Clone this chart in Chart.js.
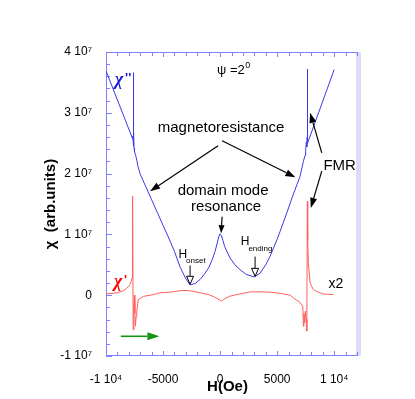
<!DOCTYPE html>
<html><head><meta charset="utf-8">
<script src="https://cdn.jsdelivr.net/npm/chart.js@4/dist/chart.umd.min.js"></script>
<style>html,body{margin:0;padding:0;background:#fff}</style>
</head><body>
<canvas id="c" width="415" height="399"></canvas>
<script>
// ---- data (field H in Oe, susceptibility in units of 1e7 arb. units) ----
const fieldChi2 = [-10000,-7660,-7640,-7620,-7610,-7600,-7590,-7575,-7560,-7540,
  -7500,-7400,-7300,-7200,-7000,-6500,-6000,-5500,-5000,-4500,
  -4000,-3500,-3000,-2630,-2200,-1750,-1400,-1000,-700,-440,
  -250,-120,0,120,250,400,880,1300,1750,2300,3000,
  3500,4000,4380,5000,5260,5840,6400,7000,7300,7450,
  7500,7560,7600,7630,7650,7660,7680,10000];
const chi2 = [3.69,2.57,2.62,2.55,3.66,2.45,2.78,2.48,2.70,2.42,
  2.36,2.30,2.22,2.12,1.99,1.78,1.57,1.36,1.15,0.94,
  0.72,0.46,0.27,0.17,0.19,0.26,0.34,0.45,0.58,0.72,
  0.86,0.96,1.01,0.98,0.90,0.80,0.61,0.50,0.42,0.34,0.30,
  0.36,0.50,0.64,0.92,1.05,1.35,1.65,1.95,2.20,2.30,
  2.38,2.52,2.44,2.60,3.72,2.55,2.50,3.71];
const fieldChi1 = [-10000,-9000,-8500,-8200,-7950,-7800,-7720,-7680,-7660,-7620,
  -7560,-7510,-7470,-7420,-7360,-7300,-7160,-6720,-5850,-5260,
  -4380,-3220,-2500,-1750,-1000,-500,0,100,300,800,
  1460,2000,2630,3500,4380,5260,6140,6430,7010,7250,
  7300,7350,7420,7480,7540,7600,7650,7680,7740,7890,
  8180,8600,9050,9930];
const chi1x2 = [0.02,0.04,0.07,0.11,0.16,0.22,0.28,0.45,1.63,-0.57,
  -0.15,0.00,-0.30,-0.51,-0.35,-0.26,-0.07,-0.02,0.01,0.04,
  0.05,0.08,0.07,0.04,0.01,-0.03,-0.08,-0.10,-0.07,-0.02,
  0.01,0.03,0.055,0.055,0.05,0.03,0.00,-0.045,-0.12,-0.18,
  -0.51,-0.30,-0.45,-0.26,-0.40,-0.59,1.54,0.90,0.53,0.20,
  0.09,0.05,0.02,0.01];
const xTickValues = [-10000,-5000,0,5000,10000];
const yTickValues = [-1,0,1,2,3,4];

const FONT = "'Liberation Sans', Arial, sans-serif";
const AXIS = '#8080ff';

function xLabel(v){ if(v===0) return '0'; if(Math.abs(v)>=10000) return (v/10000)+' 10\u2074'; return String(v); }
function yLabel(v){ return v===0 ? '0' : v+' 10\u2077'; }

function arrow(ctx,x1,y1,x2,y2,color,lw,hl,hw,hollow){
  const a=Math.atan2(y2-y1,x2-x1), c=Math.cos(a), s=Math.sin(a);
  const bx=x2-hl*c, by=y2-hl*s;
  ctx.strokeStyle=color; ctx.lineWidth=lw;
  ctx.beginPath(); ctx.moveTo(x1,y1); ctx.lineTo(bx,by); ctx.stroke();
  ctx.beginPath(); ctx.moveTo(x2,y2);
  ctx.lineTo(bx+hw/2*s, by-hw/2*c); ctx.lineTo(bx-hw/2*s, by+hw/2*c); ctx.closePath();
  if(hollow){ ctx.fillStyle='#fff'; ctx.fill(); ctx.lineWidth=1; ctx.stroke(); }
  else { ctx.fillStyle=color; ctx.fill(); }
}

const framePlugin = {
  id:'frame',
  beforeDatasetsDraw(chart){
    const {ctx, chartArea:a, scales:{x,y}} = chart;
    ctx.save();
    ctx.fillStyle='#dcdcfa';
    ctx.fillRect(a.right-1, a.top, 5, a.bottom-a.top);
    ctx.strokeStyle=AXIS; ctx.lineWidth=1;
    ctx.beginPath();
    ctx.moveTo(a.left+0.5, a.bottom); ctx.lineTo(a.left+0.5, a.top+0.5); ctx.lineTo(a.right, a.top+0.5);
    ctx.moveTo(a.left, a.bottom-0.5); ctx.lineTo(a.right, a.bottom-0.5);
    ctx.stroke();
    ctx.beginPath();
    for(let v=x.min; v<=x.max; v+=1000){
      const px=Math.round(x.getPixelForValue(v))+0.5;
      const len = (v%5000===0)?5:4;
      ctx.moveTo(px,a.bottom); ctx.lineTo(px,a.bottom-len);
      ctx.moveTo(px,a.top); ctx.lineTo(px,a.top+len);
    }
    for(let i=0;i<=25;i++){
      const v=y.min+i*0.2;
      const py=Math.round(y.getPixelForValue(v))+0.5;
      const len=(i%5===0)?6:4;
      ctx.moveTo(a.left,py); ctx.lineTo(a.left+len,py);
    }
    ctx.stroke();
    ctx.restore();
  },
  afterDatasetsDraw(chart){
    const {ctx, chartArea:a, scales:{x,y}} = chart;
    const X=v=>x.getPixelForValue(v), Y=v=>y.getPixelForValue(v);
    ctx.save();
    ctx.fillStyle='#000'; ctx.textBaseline='alphabetic';
    // psi
    ctx.font='13px '+FONT; ctx.textAlign='left';
    ctx.fillText('\u03C8 =2', X(-263), Y(3.64));
    const w=ctx.measureText('\u03C8 =2').width;
    ctx.font='9px '+FONT; ctx.fillText('0', X(-263)+w+0.5, Y(3.64)-6);
    // magnetoresistance
    ctx.font='15px '+FONT; ctx.textAlign='center';
    ctx.fillText('magnetoresistance', X(88), Y(2.69));
    arrow(ctx, X(-175),Y(2.46), X(-6135),Y(1.71), '#000',1.2,10,7,false);
    arrow(ctx, X(175),Y(2.54), X(6600),Y(1.94), '#000',1.2,10,7,false);
    // domain mode resonance
    ctx.fillStyle='#000'; ctx.font='15px '+FONT; ctx.textAlign='center';
    ctx.fillText('domain mode', X(263), Y(1.655));
    ctx.fillText('resonance', X(526), Y(1.39));
    arrow(ctx, X(175),Y(1.29), X(90),Y(1.02), '#000',1.2,8,6,false);
    // H onset / ending
    ctx.fillStyle='#000'; ctx.textAlign='left';
    ctx.font='12px '+FONT; ctx.fillText('H', X(-3655), Y(0.61));
    ctx.font='8px '+FONT; ctx.fillText('onset', X(-2980), Y(0.53));
    arrow(ctx, X(-2630),Y(0.49), X(-2630),Y(0.18), '#000',1,8,7,true);
    ctx.fillStyle='#000';
    ctx.font='12px '+FONT; ctx.fillText('H', X(1814), Y(0.83));
    ctx.font='8px '+FONT; ctx.fillText('ending', X(2480), Y(0.72));
    arrow(ctx, X(3067),Y(0.635), X(3067),Y(0.31), '#000',1,8,7,true);
    // FMR
    ctx.fillStyle='#000'; ctx.font='15px '+FONT; ctx.textAlign='left';
    ctx.fillText('FMR', X(9053), Y(2.066));
    arrow(ctx, X(8913),Y(2.34), X(7888),Y(3.0), '#000',1.2,10,7,false);
    arrow(ctx, X(8913),Y(2.04), X(7949),Y(1.436), '#000',1.2,10,7,false);
    // series labels
    ctx.fillStyle='#1a1ad0'; ctx.font="italic bold 18px 'Liberation Serif', serif";
    ctx.fillText('\u03C7', X(-9202), Y(3.46));
    ctx.font="bold 13px "+FONT; ctx.fillText("''", X(-9202)+10, Y(3.46)-3);
    ctx.fillStyle='#ff0000'; ctx.font="italic bold 18px 'Liberation Serif', serif";
    ctx.fillText('\u03C7', X(-9290), Y(0.14));
    ctx.font="bold 13px "+FONT; ctx.fillText("'", X(-9290)+10, Y(0.14)-3);
    ctx.fillStyle='#000'; ctx.font='14px '+FONT;
    ctx.fillText('x2', X(9492), Y(0.12));
    // green arrow
    arrow(ctx, X(-8703),Y(-0.676), X(-5320),Y(-0.676), '#149414',1.6,12,8,false);
    // axis titles
    ctx.fillStyle='#000'; ctx.font='bold 15px '+FONT; ctx.textAlign='center';
    ctx.fillText('H(Oe)', 227.5, 391);
    ctx.translate(55, (a.top+a.bottom)/2); ctx.rotate(-Math.PI/2);
    ctx.fillText('\u03C7  (arb.units)', 0, 0);
    ctx.restore();
  }
};

new Chart(document.getElementById('c'), {
  type:'scatter',
  data:{ datasets:[
    { label:"chi''", data: fieldChi2.map((h,i)=>({x:h,y:chi2[i]})), showLine:true, borderColor:'#3a3ae4', borderWidth:1, pointRadius:0, tension:0 },
    { label:"chi' x2", data: fieldChi1.map((h,i)=>({x:h,y:chi1x2[i]})), showLine:true, borderColor:'#ff5c5c', borderWidth:1, pointRadius:0, tension:0 }
  ]},
  options:{
    responsive:false, animation:false, devicePixelRatio:1,
    layout:{padding:{left:0,right:58,top:52,bottom:0}},
    plugins:{legend:{display:false}, tooltip:{enabled:false}},
    scales:{
      x:{ type:'linear', min:-10000, max:12000,
        afterBuildTicks:s=>{ s.ticks = xTickValues.map(v=>({value:v})); },
        afterFit:s=>{ s.height = 43; },
        grid:{display:false}, border:{display:false},
        ticks:{ padding:8, maxRotation:0, autoSkip:false, color:'#000', font:{family:FONT,size:12}, callback:v=>xLabel(v) } },
      y:{ type:'linear', min:-1, max:4,
        afterBuildTicks:s=>{ s.ticks = yTickValues.map(v=>({value:v})); },
        afterFit:s=>{ s.width = 106; },
        grid:{display:false}, border:{display:false},
        ticks:{ padding:6, color:'#000', font:{family:FONT,size:12}, callback:v=>yLabel(v) } }
    }
  },
  plugins:[framePlugin]
});
</script>
</body></html>
